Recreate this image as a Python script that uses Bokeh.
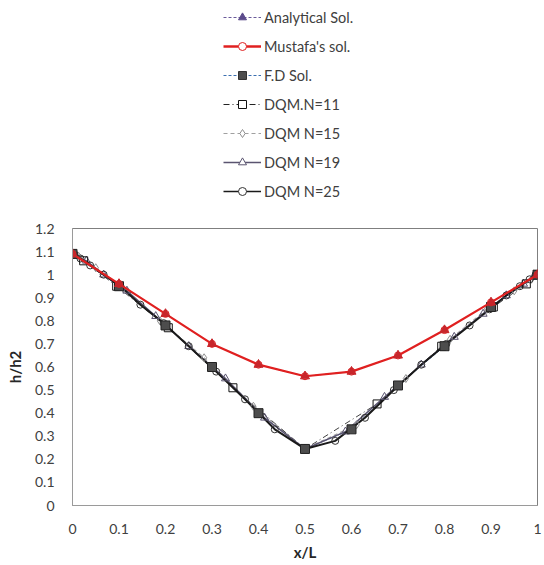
from bokeh.plotting import figure
from bokeh.layouts import column
from bokeh.models import (Range1d, FixedTicker, CustomJSTickFormatter, Legend, LegendItem,
                          ColumnDataSource)
from bokeh.embed import file_html
from bokeh.resources import INLINE

# ---------------- data ----------------
x_ref = [0, 0.1, 0.2, 0.3, 0.4, 0.5, 0.6, 0.7, 0.8, 0.9, 1.0]
analytical = [1.09, 0.96, 0.83, 0.70, 0.61, 0.56, 0.58, 0.65, 0.76, 0.88, 1.0]
mustafa = [1.09, 0.96, 0.83, 0.70, 0.61, 0.56, 0.58, 0.65, 0.76, 0.88, 1.0]
fd_sol = [1.09, 0.95, 0.78, 0.60, 0.40, 0.245, 0.33, 0.52, 0.69, 0.86, 1.0]

x_n11 = [0, 0.024, 0.095, 0.206, 0.345, 0.5, 0.655, 0.794, 0.905, 0.976, 1.0]
y_n11 = [1.09, 1.06, 0.95, 0.77, 0.51, 0.245, 0.44, 0.69, 0.86, 0.96, 1.0]

x_n15 = [0, 0.013, 0.050, 0.109, 0.188, 0.283, 0.389, 0.5, 0.611, 0.717, 0.812, 0.891, 0.950, 0.987, 1.0]
y_n15 = [1.09, 1.08, 1.03, 0.94, 0.80, 0.64, 0.43, 0.245, 0.35, 0.55, 0.72, 0.85, 0.93, 0.98, 1.0]

x_n19 = [0, 0.008, 0.030, 0.067, 0.117, 0.179, 0.25, 0.329, 0.413, 0.5, 0.587, 0.671, 0.75,
         0.821, 0.883, 0.933, 0.970, 0.992, 1.0]
y_n19 = [1.09, 1.08, 1.06, 1.00, 0.93, 0.82, 0.69, 0.55, 0.38, 0.245, 0.32, 0.47, 0.61,
         0.73, 0.83, 0.91, 0.96, 0.99, 1.0]

x_n25 = [0, 0.004, 0.017, 0.038, 0.067, 0.103, 0.146, 0.196, 0.25, 0.309, 0.371, 0.435, 0.5,
         0.565, 0.629, 0.691, 0.75, 0.804, 0.854, 0.897, 0.933, 0.962, 0.983, 0.996, 1.0]
y_n25 = [1.09, 1.09, 1.07, 1.04, 1.00, 0.95, 0.87, 0.79, 0.69, 0.58, 0.46, 0.33, 0.245,
         0.28, 0.38, 0.50, 0.61, 0.70, 0.78, 0.85, 0.91, 0.95, 0.98, 1.0, 1.0]

legend_labels = ["Analytical Sol.", "Mustafa's sol.", "F.D Sol.", "DQM.N=11",
                 "DQM N=15", "DQM N=19", "DQM N=25"]
x_ticks = [0, 0.1, 0.2, 0.3, 0.4, 0.5, 0.6, 0.7, 0.8, 0.9, 1.0]
y_ticks = [0, 0.1, 0.2, 0.3, 0.4, 0.5, 0.6, 0.7, 0.8, 0.9, 1.0, 1.1, 1.2]

FONT = "Lato"
TXT = "#404040"

# ---------------- main chart ----------------
p = figure(width=544, height=347, output_backend="svg", toolbar_location=None,
           x_range=Range1d(0, 1), y_range=Range1d(0, 1.2),
           min_border_left=72, min_border_right=7, min_border_top=10, min_border_bottom=60)
p.background_fill_color = "white"
p.border_fill_color = "white"
p.outline_line_color = "#7f7f7f"
p.outline_line_width = 1
p.grid.grid_line_color = None

for ax in (p.xaxis, p.yaxis):
    ax.major_tick_line_color = None
    ax.minor_tick_line_color = None
    ax.axis_line_color = "#9a9a9a"
    ax.major_label_text_font = FONT
    ax.major_label_text_font_size = "14px"
    ax.major_label_text_color = TXT
    ax.axis_label_text_font = FONT
    ax.axis_label_text_font_size = "15px"
    ax.axis_label_text_font_style = "bold"
    ax.axis_label_text_color = "#262626"
    ax.formatter = CustomJSTickFormatter(code="return String(Number(tick.toFixed(1)));")
p.xaxis.ticker = FixedTicker(ticks=x_ticks)
p.yaxis.ticker = FixedTicker(ticks=y_ticks)
p.xaxis.axis_label = "x/L"
p.yaxis.axis_label = "h/h2"
p.xaxis.major_label_standoff = 12
p.yaxis.major_label_standoff = 12
p.xaxis.axis_label_standoff = 6
p.yaxis.axis_label_standoff = 8

p.line(x_ref, fd_sol, line_color="#3b6fb0", line_dash="3 2", line_width=1)
p.line(x_n15, y_n15, line_color="#a0a0a0", line_dash="4 3", line_width=1.2)
p.line(x_n11, y_n11, line_color="#444444", line_dash="6 3 1 3", line_width=1)
p.line(x_n19, y_n19, line_color="#5a5470", line_width=1.5)
p.line(x_n25, y_n25, line_color="#1a1a1a", line_width=2)

p.scatter(x_n15, y_n15, marker="diamond", size=8, fill_color=None, line_color="#909090")
p.scatter(x_n19, y_n19, marker="triangle", size=8, fill_color=None, line_color="#5a5470")
p.scatter(x_n25, y_n25, marker="circle", size=7, fill_color=None, line_color="#333333")
p.scatter(x_n11, y_n11, marker="square", size=8, fill_color=None, line_color="#111111")
p.scatter(x_ref, fd_sol, marker="square", size=9, fill_color="#4d4d4d", line_color="#222222")

p.line(x_ref, analytical, line_color="#6a5a9a", line_dash="3 2", line_width=1)
p.line(x_ref, mustafa, line_color="#e02020", line_width=2.2)
p.scatter(x_ref, mustafa, marker="circle", size=7, fill_color=None, line_color="#e02020")
p.scatter(x_ref, analytical, marker="triangle", size=9, fill_color="#c8262b", line_color="#c8262b")

# ---------------- legend figure ----------------
lg = figure(width=544, height=218, output_backend="svg", toolbar_location=None,
            x_range=Range1d(0, 1), y_range=Range1d(0, 1),
            min_border_left=0, min_border_right=0, min_border_top=0, min_border_bottom=0)
lg.axis.visible = False
lg.grid.grid_line_color = None
lg.outline_line_color = None
lg.background_fill_color = "white"
lg.border_fill_color = "white"

# legend-only proxies: one point each, placed outside the visible range of this strip
off = ColumnDataSource(data=dict(x=[-5.0], y=[-5.0]))

def proxy(line_kw, marker_kw):
    r1 = lg.line("x", "y", source=off, **line_kw)
    r2 = lg.scatter("x", "y", source=off, **marker_kw)
    return [r1, r2]

proxies = [
    proxy(dict(line_color="#6a5a9a", line_dash="3 2", line_width=1),
          dict(marker="triangle", size=8, fill_color="#5b4a8b", line_color="#5b4a8b")),
    proxy(dict(line_color="#e02020", line_width=2.5),
          dict(marker="circle", size=7, fill_color="white", line_color="#e02020")),
    proxy(dict(line_color="#3b6fb0", line_dash="3 2", line_width=1),
          dict(marker="square", size=8, fill_color="#4d4d4d", line_color="#333333")),
    proxy(dict(line_color="#222222", line_dash="6 3 1 3", line_width=1.2),
          dict(marker="square", size=7, fill_color="white", line_color="#111111")),
    proxy(dict(line_color="#a0a0a0", line_dash="4 3", line_width=1.2),
          dict(marker="diamond", size=8, fill_color="white", line_color="#909090")),
    proxy(dict(line_color="#5a5470", line_width=1.5),
          dict(marker="triangle", size=8, fill_color="white", line_color="#5a5470")),
    proxy(dict(line_color="#1a1a1a", line_width=1.5),
          dict(marker="circle", size=7, fill_color="white", line_color="#333333")),
]

legend = Legend(items=[LegendItem(label=lab, renderers=rs) for lab, rs in zip(legend_labels, proxies)],
                location=(151, 17))
legend.border_line_color = None
legend.background_fill_alpha = 0
legend.label_text_font = FONT
legend.label_text_font_size = "14.5px"
legend.label_text_color = TXT
legend.glyph_width = 38
legend.glyph_height = 20
legend.label_height = 20
legend.spacing = 9
legend.padding = 4
legend.margin = 0
legend.label_standoff = 3
lg.add_layout(legend, "center")

layout = column(lg, p, spacing=0)
open("out.html", "w").write(file_html(layout, INLINE))
